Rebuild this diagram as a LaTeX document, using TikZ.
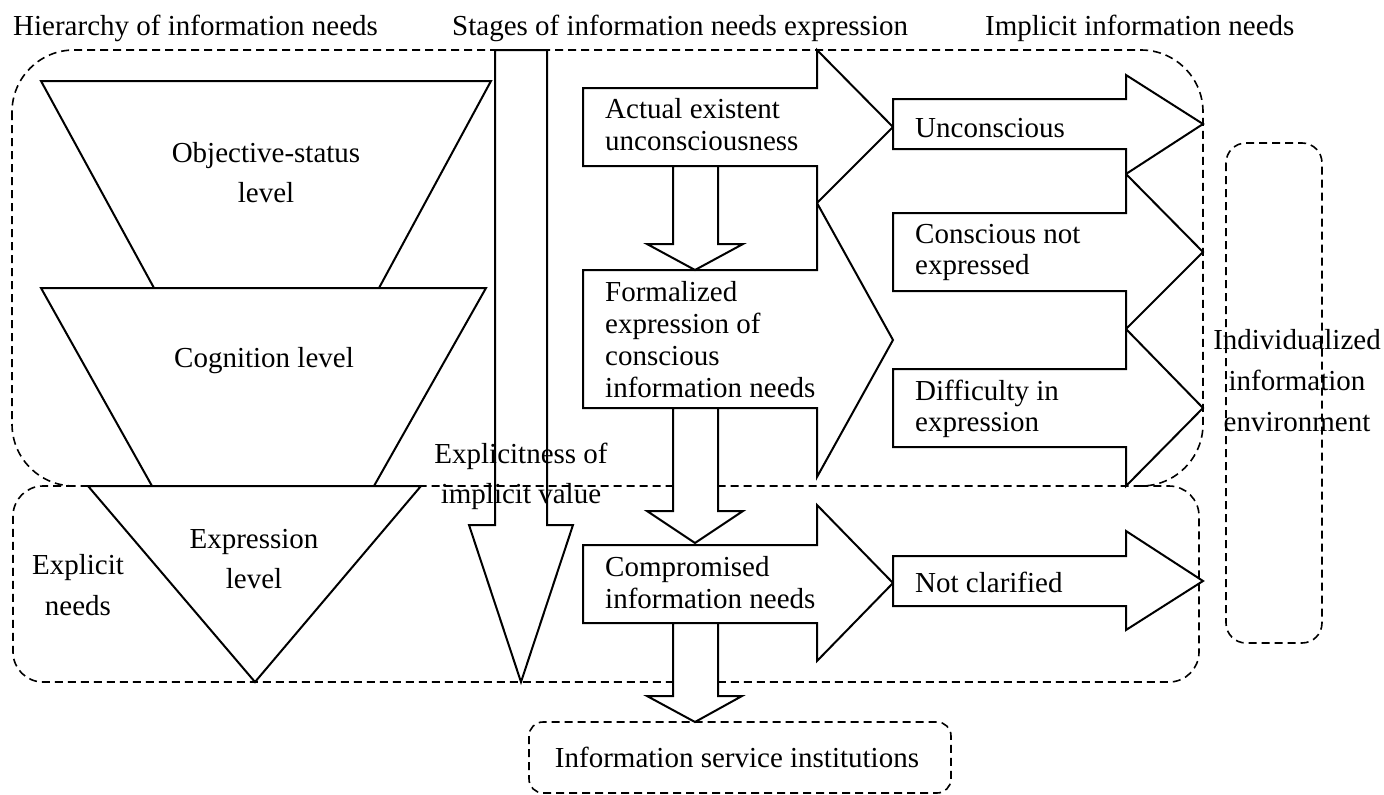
\documentclass[tikz,border=0pt]{standalone}
\usepackage{fontspec}
\setmainfont{Liberation Serif}
\begin{document}
\begin{tikzpicture}[x=1pt,y=-1pt,
  solidshape/.style={draw=black, line width=2pt, line join=miter, fill=white},
  openshape/.style={draw=black, line width=2pt, line join=miter},
  region/.style={draw=black, line width=1.6pt, dash pattern=on 8pt off 5pt},
  lab/.style={inner sep=0pt, font=\fontsize{29}{32}\selectfont},
  labr/.style={inner sep=0pt, font=\fontsize{29}{31}\selectfont},
  wide/.style={inner sep=0pt, font=\fontsize{29}{40}\selectfont},
  wider/.style={inner sep=0pt, font=\fontsize{29}{41}\selectfont}]
\useasboundingbox (0,0) rectangle (1384,795);

% dashed regions (the lower one shares its top edge with the upper one)
\draw[region, rounded corners=62pt] (12,50) rectangle (1203,486);
\draw[region, rounded corners=30pt] (74,486) -- (13,486) -- (13,682) -- (1199,682)
  -- (1199,486) -- (1141,486);
\draw[region, rounded corners=20pt] (1226,143) rectangle (1322,643);
\draw[region, rounded corners=14pt] (529,722) rectangle (951,793);

% hierarchy funnel
\draw[solidshape] (41,81) -- (491,81) -- (379,288) -- (154,288) -- cycle;
\draw[solidshape] (41,288) -- (486,288) -- (374,486) -- (152,486) -- cycle;
\draw[solidshape] (88,486) -- (421,486) -- (255,682) -- cycle;

% explicitness arrow
\draw[openshape] (495,50) -- (547,50) -- (547,525) -- (573,525) -- (521,682)
  -- (469,525) -- (495,525) -- cycle;

% stages of expression
\draw[solidshape] (583,88) -- (817,88) -- (817,50) -- (893,127) -- (817,203)
  -- (817,166) -- (583,166) -- cycle;
\draw[solidshape] (583,270) -- (817,270) -- (817,203) -- (893,340) -- (817,477)
  -- (817,408) -- (583,408) -- cycle;
\draw[solidshape] (583,545) -- (817,545) -- (817,505) -- (893,583) -- (817,661)
  -- (817,623) -- (583,623) -- cycle;

% downward transitions
\draw[solidshape] (673,166) -- (718,166) -- (718,244) -- (743,244) -- (695,270)
  -- (647,244) -- (673,244) -- cycle;
\draw[solidshape] (673,408) -- (718,408) -- (718,511) -- (743,511) -- (695,543)
  -- (647,511) -- (673,511) -- cycle;
\draw[solidshape] (673,623) -- (718,623) -- (718,696) -- (742,696) -- (695,722)
  -- (647,696) -- (673,696) -- cycle;

% implicit needs
\draw[solidshape] (893,99) -- (1126,99) -- (1126,75) -- (1203,124) -- (1126,174)
  -- (1126,149) -- (893,149) -- cycle;
\draw[solidshape] (893,213) -- (1126,213) -- (1126,174) -- (1203,252) -- (1126,329)
  -- (1126,291) -- (893,291) -- cycle;
\draw[solidshape] (893,369) -- (1126,369) -- (1126,329) -- (1203,408) -- (1126,486)
  -- (1126,447) -- (893,447) -- cycle;
\draw[solidshape] (893,556) -- (1126,556) -- (1126,531) -- (1203,581) -- (1126,630)
  -- (1126,606) -- (893,606) -- cycle;

% headings
\node[lab, anchor=base west] (title1) at (13,35) {Hierarchy of information needs};
\node[lab, anchor=base west] (title2) at (452,35) {Stages of information needs expression};
\node[lab, anchor=base west] (title3) at (985,35) {Implicit information needs};

% labels
\node[wide, anchor=base] (objlev) at (266,162)
  {\begin{tabular}[t]{@{}c@{}}Objective-status\\level\end{tabular}};
\node[lab, anchor=base] (coglev) at (264,367) {Cognition level};
\node[wide, anchor=base] (explev) at (254,548)
  {\begin{tabular}[t]{@{}c@{}}Expression\\level\end{tabular}};
\node[wider, anchor=base] (expneeds) at (78,574)
  {\begin{tabular}[t]{@{}c@{}}Explicit\\needs\end{tabular}};
\node[wide, anchor=base] (explval) at (521,463)
  {\begin{tabular}[t]{@{}c@{}}Explicitness of\\implicit value\end{tabular}};

\node[lab, anchor=base west] (actual) at (605,118)
  {\begin{tabular}[t]{@{}l@{}}Actual existent\\unconsciousness\end{tabular}};
\node[lab, anchor=base west] (formal) at (605,301)
  {\begin{tabular}[t]{@{}l@{}}Formalized\\expression of\\conscious\\information needs\end{tabular}};
\node[lab, anchor=base west] (comprom) at (605,576)
  {\begin{tabular}[t]{@{}l@{}}Compromised\\information needs\end{tabular}};

\node[labr, anchor=base west] (uncon) at (915,137) {Unconscious};
\node[labr, anchor=base west] (consc) at (915,243)
  {\begin{tabular}[t]{@{}l@{}}Conscious not\\expressed\end{tabular}};
\node[labr, anchor=base west] (diffic) at (915,400)
  {\begin{tabular}[t]{@{}l@{}}Difficulty in\\expression\end{tabular}};
\node[labr, anchor=base west] (notclar) at (915,592) {Not clarified};

\node[wider, anchor=base] (indiv) at (1297,349)
  {\begin{tabular}[t]{@{}c@{}}Individualized\\information\\environment\end{tabular}};
\node[lab, anchor=base] (service) at (737,767) {Information service institutions};
\end{tikzpicture}
\end{document}
